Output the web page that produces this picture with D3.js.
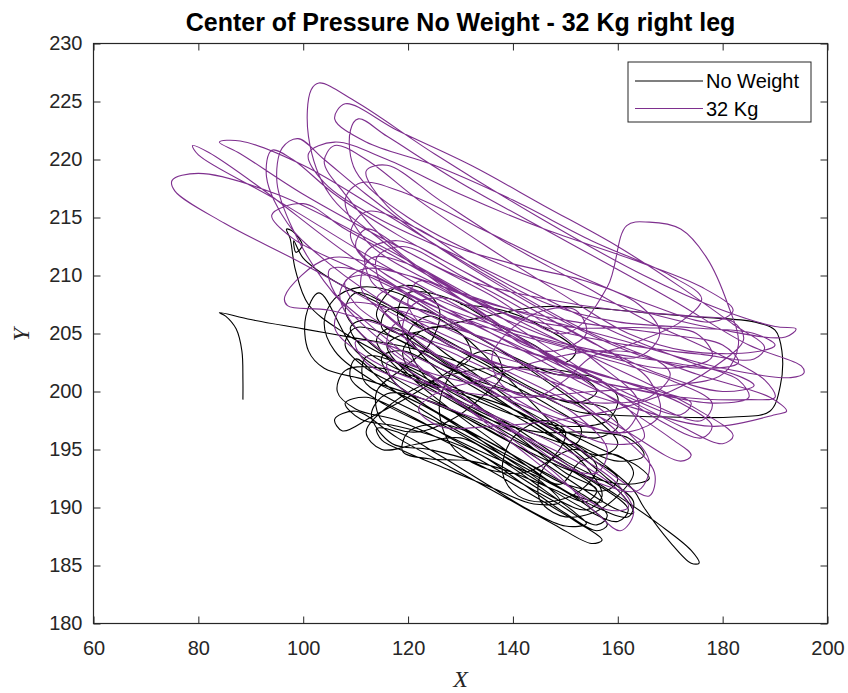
<!DOCTYPE html>
<html>
<head>
<meta charset="utf-8">
<script src="https://cdn.jsdelivr.net/npm/d3@7"></script>
<style>
  html, body { margin: 0; padding: 0; background: #ffffff; }
  svg { display: block; font-family: "Liberation Sans", Arial, sans-serif; }
</style>
</head>
<body>
<svg id="chart" width="848" height="693"></svg>
<script>
// Axis ranges and tick values
const xDomain = [60, 200];
const yDomain = [180, 230];
const xTicks = [60, 80, 100, 120, 140, 160, 180, 200];
const yTicks = [180, 185, 190, 195, 200, 205, 210, 215, 220, 225, 230];

const titleText = "Center of Pressure No Weight - 32 Kg right leg";
const seriesNames = ["No Weight", "32 Kg"];
const seriesColors = ["#000000", "#7E2F8E"];

// Centre-of-pressure trace without weight, [X, Y]
const noWeightPath = [
  [88.5,199.3],[88.5,201],[88.3,203.5],[87.2,205.4],[85.2,206.5],[84,206.8],[90,206.2],[100,205.4],[110,204.6],[120,203.8],
  [130,202.5],[140,200.5],[148,198.5],[153,196.8],[152,195.5],[145,196.2],[135,198],[125,200.3],[115,202],[108,201.8],
  [106.5,200],[110,198.5],[118,197.5],[128,195.5],[138,193],[148,190.5],[156,188.5],[158,189.3],[152,191.5],[142,194],
  [132,196.5],[122,199],[113,201],[106,203.5],[104,206],[106,208],[111,209],[118,208.5],[126,206.5],[136,204],
  [146,201],[155,198],[160,195.5],[157,194.5],[148,196],[138,198.5],[128,200.5],[118,202.5],[112,203],[111.5,201],
  [116,199.5],[125,197.5],[135,195],[145,192.2],[154,189.8],[160,188.8],[162,189.8],[156,192],[146,194.5],[135,197],
  [124,199.2],[116,199.8],[113,198],[117,195.5],[124,195],[132,194],[142,191.5],[152,188.8],[157,187.2],[155,186.9],
  [148,188.5],[138,191],[128,193.5],[118,196],[110,198.3],[106,197.6],[107.5,196.6],[113,197.8],[120,199.5],[127,201.5],
  [132,203],[130,205],[124,205.5],[119,203.5],[122,201],[130,200],[140,198.5],[150,196],[158,193.5],[163,191.5],
  [165,190],[170,187],[174,185.2],[175.5,185.2],[174,186.3],[168,188.5],[160,191],[150,193.8],[140,196.5],[130,199],
  [120,201.8],[112,204.5],[108,207],[110,208.5],[116,207.5],[124,205],[134,202.5],[144,200],[152,198.3],[158,198],
  [170,197.8],[182,197.8],[189,198.3],[191,200.5],[191.3,203.5],[190,205.3],[186,206],[176,206.4],[165,206.8],[155,207.2],
  [145,207.3],[135,206.5],[125,205.5],[118,205],[114,206.5],[117,208.8],[122,209],[126,207],[124,204],[119,202],
  [114,200],[115,197.5],[121,196.5],[128,197.5],[134,199.5],[138,201.5],[136,203.5],[130,202.5],[126,199],[128,195.5],
  [134,193.5],[142,193],[148,194.5],[150,196.5],[146,197.5],[140,196],[138,193],[141,191],[147,190.5],[153,191.5],
  [156,193.5],[152,195],[146,193.5],[145,190.8],[149,189.3],[155,189.5],[160,191],[163,193],[160,194.5],[153,194],
  [149,192],[143,193.5],[135,195.5],[126,198],[118,200.5],[112,202],[108,204],[110,205.5],[118,204.5],[128,202],
  [138,199.5],[148,197],[157,195],[164,193.5],[166,192.5],[162,192],[152,193],[140,195.5],[128,198.5],[118,201],
  [110,203.5],[103,208.5],[100.5,206.5],[101,203.5],[104,202],[112,201],[122,199.5],[132,197.5],[142,195],[152,192],
  [160,189.8],[163,189.5],[160,191.5],[150,194],[140,197],[130,199.5],[118,202.5],[108,205],[101,207.5],[98.5,210.5],
  [97.5,213.2],[96.8,214],[98,213.8],[99.8,212.6],[98.6,212],[98.2,213],[100,211.5],[106,209.5],[115,207.5],[125,205],
  [135,202.5],[145,200],[152,199],[156,200],[152,201.5],[144,202],[135,202],[125,201],[117,199],[112,196.5],
  [115,195],[122,195.5],[130,196],[138,194],[146,191.5],[152,189.5],[154,188.6],[150,188.4],[143,189.8],[135,192],
  [126,194.5],[118,196.5],[114,196.8],[115,195.8],[120,194.7],[128,193.2],[136,191.7],[144,190.3],[149,190.5],[146,192],
  [138,194.5],[130,197],[122,199.2],[117,201],[115,203],[119,203.5],[126,202],[134,200],[142,198],[150,196.5],
  [156,196],[160,197],[158,198.5],[150,199.2],[140,200],[130,201.5],[121,203.8],[115,205.5],[116,207],[123,207],
  [132,205],[140,203],[148,201.5],[155,201.3],[160,199.5],[158,197.5],[150,197],[140,198],[130,199.8],[120,201.5],
  [112,203.5],[109,205.5],[112,206.2],[120,204.5],[130,201.5],[140,198.5],[150,195.5],[158,192.5],[163,190.5],[162,189.2],
  [156,190],[146,192.5],[136,195],[126,197.5],[116,200.5],[110,202.8],[109,201.2],[114,199.3],[124,197],[134,194.8],
  [144,192.8],[152,191],[157,190.5],[155,192],[146,194.5],[136,197.2],[126,199.8],[118,202],[114,204.5],[117,205.5],
  [124,203.5],[132,201],[140,198.5],[148,196],[154,193.5],[157,191],[154,189.8],[148,190.8],[140,193],[130,195.5],
  [120,198],[112,199.5],[108,199],[111,197.6],[118,197],[126,196],[134,194.5],[142,192],[150,189.5],[156,188],
  [158,188.5],[154,190.2],[146,192.5],[137,195.5],[128,198.5],[120,201.5],[116,204],[121,205],[128,203],[136,200.5],
  [144,197.8],[152,195.5],[160,194],[165,194.5],[162,196],[154,196.5],[145,196.5],[136,197.5],[128,199.5],[122,202],
  [120,205],[124,206.5],[130,205],[136,202.5],[142,199.8],[148,197],[154,194.5],[160,192.5],[158,191.5],[150,192],
  [142,194],[134,196],[126,197.2],[120,196.5],[119,194.8],[124,194.2],[132,194],[140,193],[148,191.5],[154,190.5],
  [156,191.5],[150,193],[140,196.5],[130,200],[122,203.5],[118,206.5],[120,208.5],[128,208],[136,206],[144,204],
  [150,202.5],[152,203.5],[146,205.5],[138,207],[130,207.5]
];

// Centre-of-pressure trace with 32 kg, [X, Y]
const weightPath = [
  [140,203],[125,207],[108,212],[92,217.5],[82,220.6],[78.9,221.2],[80,220.4],
  [95,216.5],[115,211],[135,206],[155,201],[172,197],[180,195.5],[182,196.2],
  [175,198.5],[155,203],[135,207.5],[115,212.5],[95,217],[80,218.8],[75,218.2],[75.5,217.3],
  [85,214.5],[100,211],[120,206],[140,201.5],[160,197],[172,194],[174,194.5],[170,196],
  [150,202],[130,208],[115,213],[105,217],[101,222],[101.5,226],[103,226.6],[110,225],[125,220.5],[145,215],
  [165,210],[180,207],[190,205.6],[194,205.4],[192,204.7],
  [180,205.3],[160,207.5],[140,210.5],[120,215],[110,219],[109,222.5],[110.5,223.5],[116,222],[130,218],[150,213],
  [170,208],[185,204],[195,202.2],[195.5,201.6],[193,201.2],
  [180,202],[160,204.5],[140,207],[120,210],[105,211.5],[96.5,208.2],[97,207.4],[105,207],[120,205],[140,202],
  [160,199],[178,197],[190,198],[192.2,198.3],[189,199.5],
  [175,201.5],[155,205],[135,210],[115,215.5],[100,219.5],[88,221.6],[84,221.5],[88,220.5],[100,217],[118,212.5],
  [135,208.5],[150,205],
  [158,209],[161.7,214.3],[166,214.6],[172,214],[177,211.5],[181,207.5],[183,204],[180,201.5],[170,200.5],[155,200],
  [140,199.5],[125,200.5],[112,203],[106,205.5],[108,207.5],[118,207],[132,204.5],[146,201.5],[158,198],[166,194],
  [164,191.5],[157,192],[146,195],[134,198.5],[122,202],[112,205.5],[104,209.5],[98,214],[95,218],[96,221],
  [99,221.8],[104,220],[112,217],[124,213],[138,209],[152,205.5],[165,203],[176,202],[183,202.5],[180,204],
  [168,205],[152,206],[136,207.5],[122,210],[112,213],[108,216.5],[111,218],[120,217],[134,214],[150,210.5],
  [166,207.5],[178,206],[182,207],[176,209],[162,211.5],[146,214],[130,217],[116,220],[106,221.5],[101,220.5],
  [104,218],[114,215],[128,212],[144,208.5],[160,205],[174,202.5],[183,201],[185,199.5],[178,199],[165,200],
  [150,201.5],[134,203.5],[118,207],[105,211],[97,214.5],[93,218.5],[94,220.8],[98,220],[106,217],[118,213.5],
  [132,210],[146,206.5],[158,203.5],[166,201],[168,198],[162,196.5],[150,197.5],[138,199.5],[126,202],[116,204],
  [110,204.3],[112,202.5],[122,200.5],[136,198],[150,195],[160,192],[163,189.5],[160.5,188],[156,189.5],[148,193],
  [138,196.5],[128,199.5],[118,202.5],[110,205.5],[107,208.5],[111,210.5],[120,210],[132,207.5],[145,205],[158,203],
  [170,202],[178,203],[175,205],[165,205.5],[152,205.5],[140,206.5],[128,209],[117,212.5],[108,217],[104,219.8],
  [106,221.2],[112,220],[122,216.5],[135,212.5],[149,208.5],[162,205],[173,203.5],[186,203.4],[190,204],[186,205],
  [174,205.5],[160,206],[147,207.5],[134,210.5],[122,214],[112,215.5],[109,213.5],[113,211],[124,208],[138,204.5],
  [152,201],[162,198.5],[165,196],[158,195.5],[146,198],[134,201],[124,203],[119,205],[121,207.5],[128,208],
  [136,206],[142,204],[148,203.5],[154,205],[152,207],[146,207],[140,205.5],[136,203],[138,200.5],[144,199.5],
  [150,201],[155,203],[162,204],[172,206],[176,208],[170,210],[155,213],[140,216.5],[125,219.5],[112,221.5],
  [106,223.5],[108,224.8],[118,222.5],[132,219.5],[146,216],[160,212.5],[172,209],[182,205.8],[188,203.8],[186,202.8],
  [176,203.2],[162,204],[148,205.3],[134,207.5],[120,211],[108,214],[100,216.2],[94,215.2],[98,213.2],[110,210.5],
  [124,207.5],[138,205],[152,202],[166,199],[176,197.5],[178,199],[170,201],[156,203],[140,205],[126,206.5],
  [116,208.5],[114,211.5],[119,212.5],[130,210],[144,206.5],[156,202.5],[164,199],[161,196.5],[152,197.5],[140,200],
  [130,202],[118,205],[110,207.5],[108,209.5],[113,210],[124,207],[138,203.5],[150,200],[160,196.5],[167,193],
  [166,191],[160,192.5],[150,196],[138,199.5],[126,203],[116,206.5],[111,209],[113,211.5],[120,211],[132,208],
  [146,204],[158,200.5],[168,197.5],[176,196],[178,197],[172,199],[160,201],[146,203],[132,205],[120,207.5],
  [113,209.5],[112,212],[118,213],[130,210.5],[144,207],[156,204],[168,201.5],[180,200],[186,200.5],[182,201.5],
  [170,202.5],[156,203.5],[142,205],[128,207],[118,209],[114,208],[119,205.5],[130,203],[142,200.5],[152,198],
  [158,195],[156,193],[150,193.5],[142,196],[132,199],[122,202],[116,202.5],[118,200.5],[128,198.5],[140,196.5],
  [152,194],[160,191.5],[162,190],[158,189.8],[150,192],[140,195.5],[130,199],[120,203],[112,206],[106,208.5],
  [105,210.5],[110,210.5],[122,208],[136,205],[150,202],[162,199.5],[172,198],[174,199],[168,200],[156,201.5],
  [142,203.5],[128,205.5],[118,206],[116,204],[122,202],[134,200.5],[146,199.5],[158,199],[166,199.5],[170,201.5],
  [166,203],[156,203.5],[144,202.5],[134,201],[126,200],[122,198.5],[126,197],[136,197],[148,197.5],[160,198.5],
  [170,200],[178,202],[184,204.5],[182,206],[174,206.5],[160,207],[146,208],[132,209.5],[120,212],[112,214],
  [110,212.5],[116,210],[128,207.5],[142,205],[154,203.5],[164,203],[168,205],[164,207.5],[154,209.5],[140,211],
  [126,213],[116,216],[112,219],[116,219.5],[126,216.5],[138,213],[152,209.5],[166,206],[178,203.5],[188,201],
  [190,199.5],[185,199.3],[172,199.5],[160,200.5],[148,201.5],[136,202.5],[126,204.5],[120,207.5],[122,209.5],[130,208],
  [140,205],[150,202.5],[157,201]
];

const svg = d3.select("#chart");
const plotLeft = 93.5, plotRight = 827.5, plotTop = 43.5, plotBottom = 623.5;

const x = d3.scaleLinear().domain(xDomain).range([plotLeft, plotRight]);
const y = d3.scaleLinear().domain(yDomain).range([plotBottom, plotTop]);

const axisColor = "#262626";
const tickFont = 20;

// Data traces, drawn in legend order
const line = d3.line()
  .x(d => x(d[0]))
  .y(d => y(d[1]))
  .curve(d3.curveCatmullRom.alpha(0.5));

const plot = svg.append("g");
[noWeightPath, weightPath].forEach((path, i) => {
  plot.append("path")
    .attr("d", line(path))
    .attr("fill", "none")
    .attr("stroke", seriesColors[i])
    .attr("stroke-width", 1.1)
    .attr("stroke-linejoin", "round");
});

// Axes with inward ticks on every side
function styleAxis(g) {
  g.selectAll(".domain").remove();
  g.selectAll(".tick line").attr("stroke", axisColor).attr("stroke-width", 1);
  g.selectAll(".tick text").attr("fill", axisColor).style("font-size", tickFont + "px")
    .style("font-family", "'Liberation Sans', Arial, sans-serif");
}

svg.append("g").attr("transform", `translate(0,${plotBottom})`)
  .call(d3.axisBottom(x).tickValues(xTicks).tickSizeInner(-7).tickSizeOuter(0).tickPadding(17).tickFormat(d3.format("d")))
  .call(styleAxis);
svg.append("g").attr("transform", `translate(0,${plotTop})`)
  .call(d3.axisTop(x).tickValues(xTicks).tickSizeInner(-7).tickSizeOuter(0).tickFormat(""))
  .call(styleAxis);
svg.append("g").attr("transform", `translate(${plotLeft},0)`)
  .call(d3.axisLeft(y).tickValues(yTicks).tickSizeInner(-7).tickSizeOuter(0).tickPadding(11).tickFormat(d3.format("d")))
  .call(styleAxis);
svg.append("g").attr("transform", `translate(${plotRight},0)`)
  .call(d3.axisRight(y).tickValues(yTicks).tickSizeInner(-7).tickSizeOuter(0).tickFormat(""))
  .call(styleAxis);

// Axes box
svg.append("rect")
  .attr("x", plotLeft).attr("y", plotTop)
  .attr("width", plotRight - plotLeft).attr("height", plotBottom - plotTop)
  .attr("fill", "none").attr("stroke", axisColor).attr("stroke-width", 1.2);

// Title
svg.append("text")
  .attr("x", (plotLeft + plotRight) / 2).attr("y", 31)
  .attr("text-anchor", "middle")
  .style("font-size", "25px").style("font-weight", "bold")
  .attr("fill", "#000")
  .text(titleText);

// Axis labels (italic serif)
svg.append("text")
  .attr("x", (plotLeft + plotRight) / 2).attr("y", 687)
  .attr("text-anchor", "middle")
  .style("font-family", "'Liberation Serif', 'Times New Roman', serif")
  .style("font-style", "italic").style("font-size", "24px")
  .attr("fill", axisColor)
  .text("X");
svg.append("text")
  .attr("transform", `translate(29,${(plotTop + plotBottom) / 2 + 1}) rotate(-90)`)
  .attr("text-anchor", "middle")
  .style("font-family", "'Liberation Serif', 'Times New Roman', serif")
  .style("font-style", "italic").style("font-size", "24px")
  .attr("fill", axisColor)
  .text("Y");

// Legend
const legend = svg.append("g");
legend.append("rect")
  .attr("x", 628).attr("y", 62).attr("width", 183).attr("height", 60)
  .attr("fill", "#ffffff").attr("stroke", axisColor).attr("stroke-width", 1);
seriesNames.forEach((name, i) => {
  const ly = 81 + i * 27.5;
  legend.append("line")
    .attr("x1", 635).attr("x2", 703).attr("y1", ly).attr("y2", ly)
    .attr("stroke", seriesColors[i]).attr("stroke-width", 1.1);
  legend.append("text")
    .attr("x", 706).attr("y", ly).attr("dy", "0.35em")
    .style("font-size", "20px").attr("fill", "#000")
    .text(name);
});
</script>
</body>
</html>
